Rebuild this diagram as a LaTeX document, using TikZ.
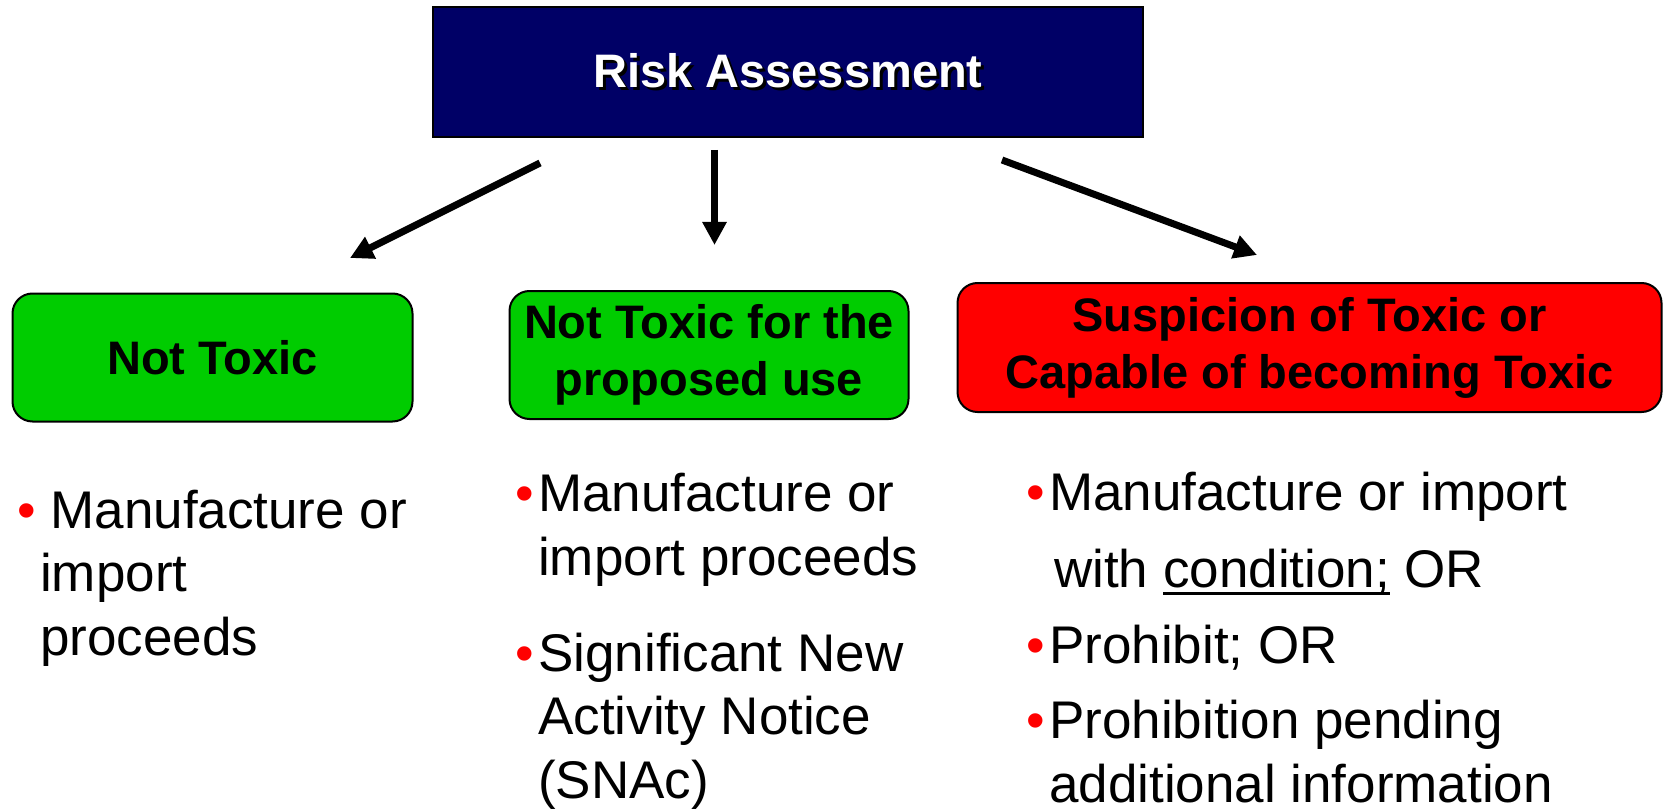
\documentclass[tikz,border=0pt]{standalone}
\usepackage{fontspec}
\setmainfont{Liberation Sans}
\usetikzlibrary{arrows.meta}

\definecolor{navybox}{RGB}{0,0,102}
\definecolor{greenbox}{RGB}{0,204,0}
\definecolor{redbox}{RGB}{255,0,0}

\newcommand{\bul}{\textcolor{red}{\textbullet}}
\newcommand{\shadowed}[1]{\makebox[0pt][l]{\hspace{3pt}\raisebox{-3pt}{\textcolor{black}{#1}}}#1}
\newcommand{\undl}[1]{\setbox0\hbox{#1}\rlap{\rule[-8pt]{\wd0}{3pt}}\box0\relax}

\tikzset{
    decision/.style={draw=black, line width=2pt, rounded corners=20pt, align=center,
        inner sep=0pt, font=\bfseries\fontsize{47}{57}\selectfont},
    outcome/.style={anchor=base west, align=left, inner sep=0pt,
        font=\fontsize{53}{63.5}\selectfont},
    flow/.style={line width=7pt, -{Triangle[length=23pt,width=23pt]}}
}

\begin{document}
\begin{tikzpicture}[x=1pt, y=-1pt]
    \useasboundingbox (0,0) rectangle (1664,810);

    % top box
    \node[draw=black, line width=1.5pt, fill=navybox, minimum width=710pt, minimum height=130pt,
        text=white, font=\bfseries\fontsize{47}{57}\selectfont] (risk) at (788,72) {\shadowed{Risk Assessment}};

    % decisions
    \node[decision, fill=greenbox, minimum width=400pt, minimum height=128pt] (nottoxic) at (212.5,357.5) {Not Toxic};
    \node[decision, fill=greenbox, minimum width=399pt, minimum height=128pt] (notuse) at (709,355) {Not Toxic for the\\proposed use};
    \node[decision, fill=redbox, minimum width=704pt, minimum height=129pt] (suspect) at (1309.5,347.5) {Suspicion of Toxic or\\Capable of becoming Toxic};

    % arrows
    \coordinate (leftstart) at (540,163);
    \coordinate (leftend) at (350,258);
    \coordinate (midstart) at (714.5,150);
    \coordinate (midend) at (714.5,245);
    \coordinate (rightstart) at (1002,160);
    \coordinate (rightend) at (1257,255);
    \draw[flow] (leftstart) -- (leftend);
    \draw[flow] (midstart) -- (midend);
    \draw[flow] (rightstart) -- (rightend);

    % outcomes (base = last line)
    \node[outcome] (proceedA) at (40,655) {\hspace*{-23pt}\bul{} Manufacture or\\import\\proceeds};

    \node[outcome] (proceedB) at (538,575) {\llap{\bul\kern4pt}Manufacture or\\import proceeds};
    \node[outcome] (snac) at (538,798) {\llap{\bul\kern4pt}Significant New\\Activity Notice\\(SNAc)};

    \node[outcome] (condition) at (1049,587) {\llap{\bul\kern4pt}Manufacture or import\\[13.5pt]\hspace*{5pt}with \undl{condition;} OR};
    \node[outcome] (prohibit) at (1049,663) {\llap{\bul\kern4pt}Prohibit; OR};
    \node[outcome] (pending) at (1049,802) {\llap{\bul\kern4pt}Prohibition pending\\additional information};
\end{tikzpicture}
\end{document}
